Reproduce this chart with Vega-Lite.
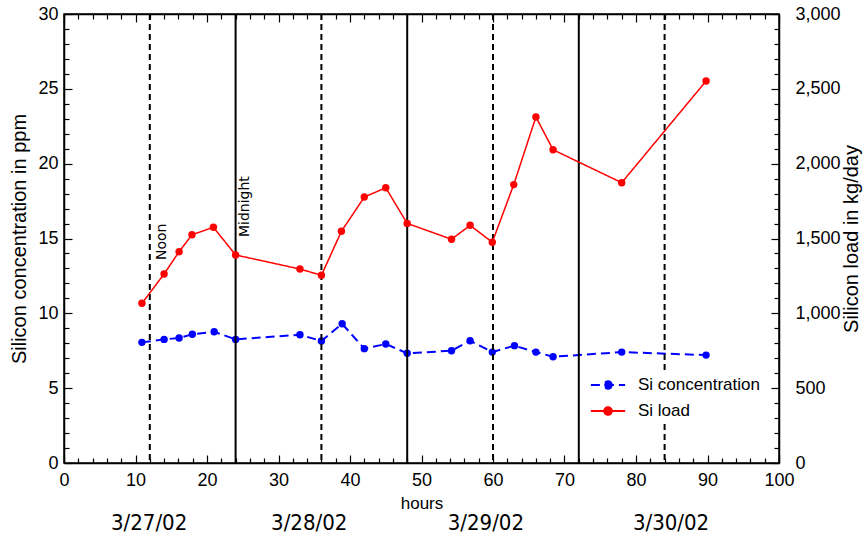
{
  "$schema": "https://vega.github.io/schema/vega-lite/v6.json",
  "width": 715,
  "height": 449,
  "autosize": {"type": "none"},
  "padding": {"left": 64, "top": 14, "right": 89, "bottom": 75},
  "background": "white",
  "datasets": {
    "si": [
      {"h": 10.9, "v": 8.06, "series": "Si concentration"},
      {"h": 14.0, "v": 8.26, "series": "Si concentration"},
      {"h": 16.1, "v": 8.35, "series": "Si concentration"},
      {"h": 17.95, "v": 8.6, "series": "Si concentration"},
      {"h": 21.0, "v": 8.77, "series": "Si concentration"},
      {"h": 24.0, "v": 8.26, "series": "Si concentration"},
      {"h": 33.0, "v": 8.57, "series": "Si concentration"},
      {"h": 36.0, "v": 8.15, "series": "Si concentration"},
      {"h": 38.9, "v": 9.3, "series": "Si concentration"},
      {"h": 42.0, "v": 7.64, "series": "Si concentration"},
      {"h": 45.0, "v": 7.95, "series": "Si concentration"},
      {"h": 48.0, "v": 7.33, "series": "Si concentration"},
      {"h": 54.2, "v": 7.5, "series": "Si concentration"},
      {"h": 56.8, "v": 8.17, "series": "Si concentration"},
      {"h": 59.9, "v": 7.41, "series": "Si concentration"},
      {"h": 63.0, "v": 7.84, "series": "Si concentration"},
      {"h": 66.0, "v": 7.41, "series": "Si concentration"},
      {"h": 68.4, "v": 7.1, "series": "Si concentration"},
      {"h": 78.0, "v": 7.41, "series": "Si concentration"},
      {"h": 89.8, "v": 7.21, "series": "Si concentration"},
      {"h": 10.9, "v": 1067, "series": "Si load"},
      {"h": 14.0, "v": 1263, "series": "Si load"},
      {"h": 16.1, "v": 1412, "series": "Si load"},
      {"h": 17.9, "v": 1525, "series": "Si load"},
      {"h": 20.9, "v": 1575, "series": "Si load"},
      {"h": 24.0, "v": 1390, "series": "Si load"},
      {"h": 33.0, "v": 1296, "series": "Si load"},
      {"h": 36.0, "v": 1254, "series": "Si load"},
      {"h": 38.8, "v": 1548, "series": "Si load"},
      {"h": 42.0, "v": 1777, "series": "Si load"},
      {"h": 45.0, "v": 1839, "series": "Si load"},
      {"h": 48.0, "v": 1601, "series": "Si load"},
      {"h": 54.2, "v": 1495, "series": "Si load"},
      {"h": 56.8, "v": 1588, "series": "Si load"},
      {"h": 59.9, "v": 1475, "series": "Si load"},
      {"h": 62.9, "v": 1860, "series": "Si load"},
      {"h": 66.0, "v": 2312, "series": "Si load"},
      {"h": 68.4, "v": 2093, "series": "Si load"},
      {"h": 78.0, "v": 1873, "series": "Si load"},
      {"h": 89.8, "v": 2552, "series": "Si load"}
    ],
    "marks": [
      {"h": 12, "kind": "noon"},
      {"h": 24, "kind": "midnight"},
      {"h": 36, "kind": "noon"},
      {"h": 48, "kind": "midnight"},
      {"h": 60, "kind": "noon"},
      {"h": 72, "kind": "midnight"},
      {"h": 84, "kind": "noon"}
    ],
    "dates": [
      {"h": 11.9, "label": "3/27/02"},
      {"h": 34.3, "label": "3/28/02"},
      {"h": 59.0, "label": "3/29/02"},
      {"h": 84.9, "label": "3/30/02"}
    ]
  },
  "config": {
    "view": {"stroke": "black", "strokeWidth": 1.5},
    "axis": {
      "grid": false,
      "labelFont": "Liberation Sans",
      "labelFontSize": 18,
      "labelColor": "black",
      "titleFont": "Liberation Sans",
      "titleFontWeight": "normal",
      "titleColor": "black",
      "domainColor": "black",
      "domainWidth": 1.5,
      "tickColor": "black",
      "tickWidth": 1.2,
      "labelFlush": false,
      "labelOverlap": false
    }
  },
  "resolve": {"scale": {"x": "independent", "y": "independent"}},
  "layer": [
    {
      "resolve": {"axis": {"x": "independent", "y": "independent"}},
      "layer": [
        {
          "data": {"name": "si"},
          "transform": [{"filter": "datum.series === 'Si concentration'"}],
          "mark": {"type": "line", "strokeWidth": 2},
          "encoding": {
            "x": {
              "field": "h", "type": "quantitative",
              "scale": {"domain": [0, 100], "nice": false, "zero": false},
              "axis": {
                "orient": "bottom",
                "values": [0, 10, 20, 30, 40, 50, 60, 70, 80, 90, 100],
                "format": "d",
                "tickSize": -8,
                "labelPadding": 16,
                "title": "hours",
                "titleFontSize": 17,
                "titlePadding": 6
              }
            },
            "y": {
              "field": "v", "type": "quantitative",
              "scale": {"domain": [0, 30], "nice": false},
              "axis": {
                "orient": "left",
                "values": [0, 5, 10, 15, 20, 25, 30],
                "format": "d",
                "tickSize": -8,
                "labelPadding": 14,
                "title": "Silicon concentration in ppm",
                "titleFontSize": 20,
                "titlePadding": 8
              }
            },
            "color": {
              "field": "series", "type": "nominal",
              "scale": {"domain": ["Si concentration", "Si load"], "range": ["#0000ff", "#ff0000"]},
              "legend": {
                "orient": "none",
                "legendX": 529,
                "legendY": 356,
                "title": null,
                "symbolType": "M-1.9,0H1.9M0.42,0A0.42,0.42,0,1,1,-0.42,0A0.42,0.42,0,1,1,0.42,0Z",
                "symbolSize": 324,
                "symbolStrokeWidth": 2,
                "labelFont": "Liberation Sans",
                "labelFontSize": 17,
                "labelColor": "black",
                "labelOffset": 20,
                "rowPadding": 8,
                "padding": 5,
                "fillColor": "white",
                "encode": {
                  "symbols": {
                    "update": {
                      "fill": {"scale": "color", "field": "value"},
                      "stroke": {"scale": "color", "field": "value"}
                    }
                  }
                }
              }
            },
            "strokeDash": {
              "field": "series", "type": "nominal",
              "scale": {"domain": ["Si concentration", "Si load"], "range": [[9, 5], [1, 0]]}
            }
          }
        },
        {
          "data": {"name": "si"},
          "transform": [{"filter": "datum.series === 'Si concentration'"}],
          "mark": {"type": "point", "filled": true, "size": 55, "opacity": 1},
          "encoding": {
            "x": {
              "field": "h", "type": "quantitative",
              "axis": {
                "orient": "bottom",
                "values": [2,4,6,8,12,14,16,18,22,24,26,28,32,34,36,38,42,44,46,48,52,54,56,58,62,64,66,68,72,74,76,78,82,84,86,88,92,94,96,98],
                "tickSize": -5,
                "labels": false,
                "domain": false,
                "title": null
              }
            },
            "y": {
              "field": "v", "type": "quantitative",
              "axis": {
                "orient": "left",
                "values": [1,2,3,4,6,7,8,9,11,12,13,14,16,17,18,19,21,22,23,24,26,27,28,29],
                "tickSize": -5,
                "labels": false,
                "domain": false,
                "title": null
              }
            },
            "color": {"field": "series", "type": "nominal"}
          }
        },
        {
          "data": {"name": "marks"},
          "transform": [{"filter": "datum.kind === 'noon'"}],
          "mark": {"type": "rule", "color": "black", "strokeWidth": 2, "strokeDash": [6, 4]},
          "encoding": {"x": {"field": "h", "type": "quantitative", "axis": null}}
        },
        {
          "data": {"name": "marks"},
          "transform": [{"filter": "datum.kind === 'midnight'"}],
          "mark": {"type": "rule", "color": "black", "strokeWidth": 2},
          "encoding": {"x": {"field": "h", "type": "quantitative", "axis": null}}
        },
        {
          "data": {"values": [{}]},
          "mark": {"type": "text", "text": "Noon", "angle": 270, "font": "DejaVu Sans", "fontSize": 14, "color": "black", "align": "center", "baseline": "middle"},
          "encoding": {
            "x": {"datum": 13.66, "type": "quantitative", "axis": null},
            "y": {"datum": 14.78, "type": "quantitative", "axis": null}
          }
        },
        {
          "data": {"values": [{}]},
          "mark": {"type": "text", "text": "Midnight", "angle": 270, "font": "DejaVu Sans", "fontSize": 14, "color": "black", "align": "center", "baseline": "middle"},
          "encoding": {
            "x": {"datum": 25.3, "type": "quantitative", "axis": null},
            "y": {"datum": 17.13, "type": "quantitative", "axis": null}
          }
        },
        {
          "data": {"name": "dates"},
          "mark": {"type": "text", "font": "Liberation Sans Narrow, DejaVu Sans Condensed, sans-serif", "fontSize": 22, "color": "black", "align": "center", "baseline": "middle"},
          "encoding": {
            "x": {"field": "h", "type": "quantitative", "axis": null},
            "y": {"datum": -4.0, "type": "quantitative", "axis": null},
            "text": {"field": "label", "type": "nominal"}
          }
        }
      ]
    },
    {
      "resolve": {"axis": {"x": "independent", "y": "independent"}},
      "layer": [
        {
          "data": {"name": "si"},
          "transform": [{"filter": "datum.series === 'Si load'"}],
          "mark": {"type": "line", "strokeWidth": 1.5},
          "encoding": {
            "x": {
              "field": "h", "type": "quantitative",
              "scale": {"domain": [0, 100], "nice": false, "zero": false},
              "axis": {
                "orient": "top",
                "values": [0, 10, 20, 30, 40, 50, 60, 70, 80, 90, 100],
                "labels": false,
                "tickSize": -8,
                "title": null
              }
            },
            "y": {
              "field": "v", "type": "quantitative",
              "scale": {"domain": [0, 3000], "nice": false},
              "axis": {
                "orient": "right",
                "values": [0, 500, 1000, 1500, 2000, 2500, 3000],
                "format": ",d",
                "tickSize": -8,
                "labelPadding": 24,
                "title": "Silicon load in kg/day",
                "titleFontSize": 20,
                "titleAngle": 270,
                "titleBaseline": "top",
                "titlePadding": 1
              }
            },
            "color": {"field": "series", "type": "nominal"},
            "strokeDash": {"field": "series", "type": "nominal"}
          }
        },
        {
          "data": {"name": "si"},
          "transform": [{"filter": "datum.series === 'Si load'"}],
          "mark": {"type": "point", "filled": true, "size": 55, "opacity": 1},
          "encoding": {
            "x": {
              "field": "h", "type": "quantitative",
              "axis": {
                "orient": "top",
                "values": [2,4,6,8,12,14,16,18,22,24,26,28,32,34,36,38,42,44,46,48,52,54,56,58,62,64,66,68,72,74,76,78,82,84,86,88,92,94,96,98],
                "tickSize": -5,
                "labels": false,
                "domain": false,
                "title": null
              }
            },
            "y": {
              "field": "v", "type": "quantitative",
              "axis": {
                "orient": "right",
                "values": [100,200,300,400,600,700,800,900,1100,1200,1300,1400,1600,1700,1800,1900,2100,2200,2300,2400,2600,2700,2800,2900],
                "tickSize": -5,
                "labels": false,
                "domain": false,
                "title": null
              }
            },
            "color": {"field": "series", "type": "nominal"}
          }
        }
      ]
    }
  ]
}
